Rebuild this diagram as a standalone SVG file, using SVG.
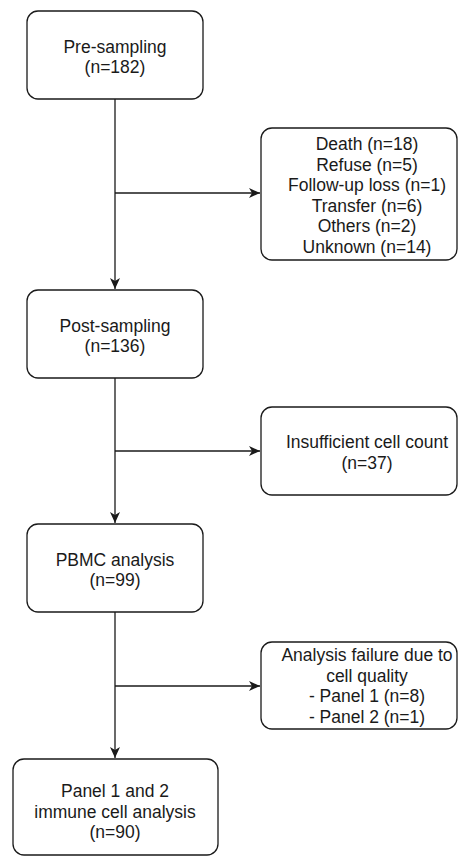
<svg xmlns="http://www.w3.org/2000/svg" width="458" height="857" viewBox="0 0 458 857">
<style>
  .box { fill: #ffffff; stroke: #1a1a1a; stroke-width: 1.3; }
  .edge { fill: none; stroke: #1a1a1a; stroke-width: 1.3; }
  text { font-family: "Liberation Sans", Arial, sans-serif; font-size: 17.5px; fill: #1a1a1a; text-anchor: middle; }
</style>
<defs>
  <marker id="arrow" viewBox="0 0 12 10" refX="11" refY="5" markerWidth="12" markerHeight="10" markerUnits="userSpaceOnUse" orient="auto">
    <path d="M0,0 L11,5 L0,10 L3,5 Z" fill="#1a1a1a"/>
  </marker>
</defs>
<rect width="458" height="857" fill="#ffffff"/>
<g id="connectors">
  <path class="edge" d="M115,99 L115,289" marker-end="url(#arrow)"/>
  <path class="edge" d="M115,193 L260,193" marker-end="url(#arrow)"/>
  <path class="edge" d="M115,378 L115,523" marker-end="url(#arrow)"/>
  <path class="edge" d="M115,451 L260,451" marker-end="url(#arrow)"/>
  <path class="edge" d="M115,612 L115,758" marker-end="url(#arrow)"/>
  <path class="edge" d="M115,686 L260,686" marker-end="url(#arrow)"/>
</g>
<g id="pre-sampling">
  <rect class="box" x="27" y="11" width="176" height="88" rx="11" ry="11"/>
  <text x="115" y="52.5">Pre-sampling</text>
  <text x="115" y="73">(n=182)</text>
</g>
<g id="exclusions-1">
  <rect class="box" x="261" y="128" width="196" height="132" rx="11" ry="11"/>
  <text x="367" y="150">Death (n=18)</text>
  <text x="367" y="170.5">Refuse (n=5)</text>
  <text x="367" y="191">Follow-up loss (n=1)</text>
  <text x="367" y="211.5">Transfer (n=6)</text>
  <text x="367" y="232">Others (n=2)</text>
  <text x="367" y="252.5">Unknown (n=14)</text>
</g>
<g id="post-sampling">
  <rect class="box" x="27" y="290" width="176" height="88" rx="11" ry="11"/>
  <text x="115" y="331.5">Post-sampling</text>
  <text x="115" y="352">(n=136)</text>
</g>
<g id="insufficient">
  <rect class="box" x="261" y="407" width="196" height="88" rx="11" ry="11"/>
  <text x="367" y="448">Insufficient cell count</text>
  <text x="367" y="468.5">(n=37)</text>
</g>
<g id="pbmc">
  <rect class="box" x="27" y="524" width="176" height="88" rx="11" ry="11"/>
  <text x="115" y="565.5">PBMC analysis</text>
  <text x="115" y="586">(n=99)</text>
</g>
<g id="analysis-failure">
  <rect class="box" x="261" y="642" width="196" height="87" rx="11" ry="11"/>
  <text x="367" y="661">Analysis failure due to</text>
  <text x="367" y="681.5">cell quality</text>
  <text x="367" y="702">- Panel 1 (n=8)</text>
  <text x="367" y="722.5">- Panel 2 (n=1)</text>
</g>
<g id="panel-analysis">
  <rect class="box" x="13" y="759" width="205" height="96" rx="11" ry="11"/>
  <text x="115" y="797">Panel 1 and 2</text>
  <text x="115" y="817.5">immune cell analysis</text>
  <text x="115" y="838">(n=90)</text>
</g>
</svg>
